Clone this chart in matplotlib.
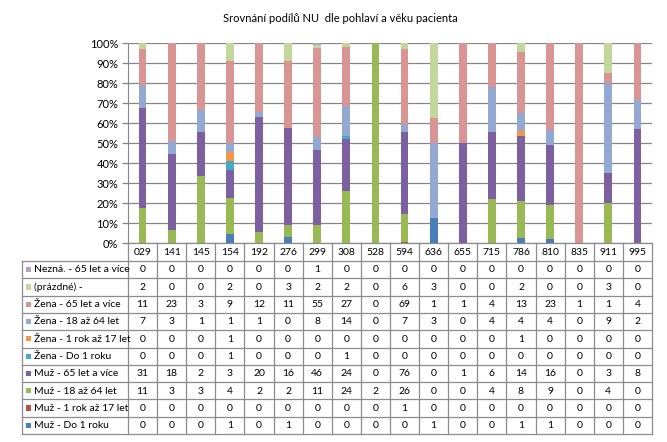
import matplotlib
matplotlib.use("Agg")
import matplotlib.pyplot as plt
import numpy as np
from matplotlib.patches import Rectangle

categories = ["029", "141", "145", "154", "192", "276", "299", "308", "528",
              "594", "636", "655", "715", "786", "810", "835", "911", "995"]

# series in stacking order (bottom -> top)
series_names = ["Muž - Do 1 roku", "Muž - 1 rok až 17 let", "Muž - 18 až 64 let",
                "Muž - 65 let a více", "Žena - Do 1 roku", "Žena - 1 rok až 17 let",
                "Žena - 18 až 64 let", "Žena - 65 let a více", "(prázdné) -",
                "Nezná. - 65 let a více"]

muz_do1 = [0, 0, 0, 1, 0, 1, 0, 0, 0, 0, 1, 0, 0, 1, 1, 0, 0, 0]
muz_1_17 = [0, 0, 0, 0, 0, 0, 0, 0, 0, 1, 0, 0, 0, 0, 0, 0, 0, 0]
muz_18_64 = [11, 3, 3, 4, 2, 2, 11, 24, 2, 26, 0, 0, 4, 8, 9, 0, 4, 0]
muz_65 = [31, 18, 2, 3, 20, 16, 46, 24, 0, 76, 0, 1, 6, 14, 16, 0, 3, 8]
zena_do1 = [0, 0, 0, 1, 0, 0, 0, 1, 0, 0, 0, 0, 0, 0, 0, 0, 0, 0]
zena_1_17 = [0, 0, 0, 1, 0, 0, 0, 0, 0, 0, 0, 0, 0, 1, 0, 0, 0, 0]
zena_18_64 = [7, 3, 1, 1, 1, 0, 8, 14, 0, 7, 3, 0, 4, 4, 4, 0, 9, 2]
zena_65 = [11, 23, 3, 9, 12, 11, 55, 27, 0, 69, 1, 1, 4, 13, 23, 1, 1, 4]
prazdne = [2, 0, 0, 2, 0, 3, 2, 2, 0, 6, 3, 0, 0, 2, 0, 0, 3, 0]
nezna_65 = [0, 0, 0, 0, 0, 0, 1, 0, 0, 0, 0, 0, 0, 0, 0, 0, 0, 0]

series_values = [muz_do1, muz_1_17, muz_18_64, muz_65, zena_do1, zena_1_17,
                 zena_18_64, zena_65, prazdne, nezna_65]

colors = ["#4A7EBB", "#BE4B48", "#98B954", "#7D60A0", "#46AAC5", "#F79646",
          "#93A9D1", "#D89593", "#C3D69B", "#B3A2C7"]

title = "Srovnání podílů NU  dle pohlaví a věku pacienta"
yticks = [0, 0.1, 0.2, 0.3, 0.4, 0.5, 0.6, 0.7, 0.8, 0.9, 1.0]
ytick_labels = ["0%", "10%", "20%", "30%", "40%", "50%", "60%", "70%", "80%", "90%", "100%"]

FONT = "Lato"
W, H = 667, 442
fig = plt.figure(figsize=(W / 100, H / 100), dpi=100)
fig.patch.set_facecolor("white")

# plot area in pixel coords
L, R, T, B = 128, 652, 43, 243
ax = fig.add_axes([L / W, 1 - B / H, (R - L) / W, (B - T) / H])

vals = np.array(series_values, dtype=float)
totals = vals.sum(axis=0)
pct = vals / totals
x = np.arange(len(categories))
bottom = np.zeros(len(categories))
for name, p, c in zip(series_names, pct, colors):
    ax.bar(x, p, bottom=bottom, width=0.27, color=c, linewidth=0, zorder=3)
    bottom += p

ax.set_xlim(-0.5, len(categories) - 0.5)
ax.set_ylim(0, 1)
ax.set_yticks(yticks)
ax.set_yticklabels(ytick_labels, fontfamily=FONT, fontsize=8, color="#000000")
ax.set_xticks([])
ax.yaxis.grid(True, color="#868686", linewidth=0.9, zorder=0)
for s in ["top", "right", "bottom"]:
    ax.spines[s].set_visible(False)
ax.spines["left"].set_color("#868686")
ax.tick_params(axis="y", length=4, width=0.9, color="#868686", pad=3)
ax.set_facecolor("white")

fig.text(340 / W, 1 - 18 / H, title, ha="center", va="center",
         fontfamily=FONT, fontsize=8)

# data table
tab = fig.add_axes([0, 0, 1, 1])
tab.set_xlim(0, W)
tab.set_ylim(H, 0)
tab.axis("off")
tab.patch.set_alpha(0)

n = len(categories)
colw = (R - L) / n
hdr_top, hdr_bot = B, 261
row_h = 17.3
nrows = len(series_names)
tab_bot = hdr_bot + row_h * nrows
lab_left = 22
lc = "#8C8C8C"
lw = 0.9

# horizontal lines
tab.plot([L, R], [hdr_top, hdr_top], color=lc, lw=lw)
for i in range(nrows + 1):
    y = hdr_bot + i * row_h
    tab.plot([lab_left, R], [y, y], color=lc, lw=lw)
# vertical lines
for j in range(n + 1):
    xx = L + j * colw
    tab.plot([xx, xx], [hdr_top, tab_bot], color=lc, lw=lw)
tab.plot([lab_left, lab_left], [hdr_bot, tab_bot], color=lc, lw=lw)

for j, cat in enumerate(categories):
    tab.text(L + (j + 0.5) * colw, (hdr_top + hdr_bot) / 2 + 0.5, cat,
             ha="center", va="center", fontfamily=FONT, fontsize=7.5)

# rows: top to bottom is reverse of stacking order
for r, k in enumerate(range(nrows - 1, -1, -1)):
    yc = hdr_bot + (r + 0.5) * row_h
    tab.add_patch(Rectangle((26, yc - 2.6), 5, 5.2, color=colors[k], lw=0))
    tab.text(34, yc + 0.3, series_names[k], ha="left", va="center",
             fontfamily=FONT, fontsize=7.5)
    for j in range(n):
        tab.text(L + (j + 0.5) * colw, yc + 0.3, str(series_values[k][j]),
                 ha="center", va="center", fontfamily=FONT, fontsize=7.5)

fig.savefig("out.png", dpi=100, facecolor="white")
